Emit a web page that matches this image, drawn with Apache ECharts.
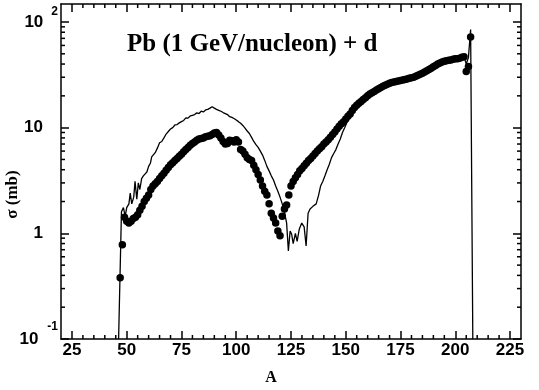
<!DOCTYPE html>
<html><head><meta charset="utf-8">
<script src="https://cdn.jsdelivr.net/npm/echarts@6/dist/echarts.min.js"></script>
<style>html,body{margin:0;padding:0;background:#fff}#c{width:539px;height:390px}</style>
</head><body><div id="c"></div>
<script>
const titleText = 'Pb (1 GeV/nucleon) + d';
const xName = 'A';
const yName = 'σ (mb)';
const xMin = 20, xMax = 230;
const yMin = 0.1, yMax = 148;
const xTickValues = [25, 50, 75, 100, 125, 150, 175, 200, 225];
const xMinorTickValues = [30,35,40,45,55,60,65,70,80,85,90,95,105,110,115,120,130,135,140,145,155,160,165,170,180,185,190,195,205,210,215,220];
const yTickValues = [0.1, 1, 10, 100];
const yMinorTickValues = [0.2,0.3,0.4,0.5,0.6,0.7,0.8,0.9,2,3,4,5,6,7,8,9,20,30,40,50,60,70,80,90];

// experimental points (filled circles)
const dotA = [47,48,49,50,51,52,53,54,55,56,57,58,59,60,61,62,63,64,65,66,67,68,69,70,71,72,73,74,75,76,77,78,79,80,
81,82,83,84,85,86,87,88,89,90,91,92,93,94,95,96,97,98,99,100,101,102,103,104,105,106,107,108,109,110,
111,112,113,114,115,116,117,118,119,120,121,122,123,124,125,126,127,128,129,130,131,132,133,134,135,136,137,138,139,140,
141,142,143,144,145,146,147,148,149,150,151,152,153,154,155,156,157,158,159,160,161,162,163,164,165,166,167,168,169,170,
171,172,173,174,175,176,177,178,179,180,181,182,183,184,185,186,187,188,189,190,191,192,193,194,195,196,197,198,199,200,
201,202,203,204,205,206,207];
const dotSigma = [0.38,0.78,1.42,1.3,1.25,1.3,1.38,1.42,1.5,1.65,1.8,2.0,2.15,2.3,2.6,2.8,2.95,3.1,3.3,3.5,3.7,3.95,4.2,4.45,4.65,4.9,5.1,5.35,5.6,5.9,6.2,6.5,6.8,7.1,
7.3,7.6,7.8,7.9,8.0,8.2,8.3,8.4,8.6,8.9,9.0,8.5,8.0,7.4,7.0,7.1,7.6,7.5,7.3,7.7,7.3,6.2,6.0,5.6,5.2,5.0,4.9,4.4,4.0,3.6,
3.2,2.8,2.5,2.3,1.9,1.55,1.4,1.25,1.05,0.95,1.45,1.7,1.85,2.3,2.8,3.1,3.35,3.6,3.9,4.1,4.35,4.6,4.9,5.1,5.4,5.7,6.0,6.3,6.6,7.0,
7.3,7.7,8.1,8.6,9.1,9.7,10.3,10.9,11.4,12.1,12.8,13.5,14.5,15.5,16.3,17.0,17.7,18.5,19.2,20.0,20.8,21.4,22.0,22.7,23.3,24.0,24.6,25.2,25.8,26.3,
26.7,27.1,27.4,27.7,28.0,28.2,28.5,28.9,29.3,29.6,30.0,30.6,31.3,32.0,32.8,33.6,34.5,35.5,36.5,37.7,38.8,40.0,41.0,41.8,42.5,43.0,43.5,43.8,44.5,45.0,
45.0,45.5,46.5,47.0,34.0,38.0,72.0];

// calculation (thin line)
const calcA = [46.3,47.6,48.5,49.3,50,51,51.6,52.3,53.2,53.8,54.6,55.3,56,56.8,57.6,58.4,59.2,60,60.8,61.4,62.2,63,64,65,66,67,68,69,70,
71,72,73,74,75,76,77,78,79,80,81,82,83,84,85,86,87,88,89,90,91,92,93,94,95,96,97,98,99,100,
101,102,103,104,105,106,107,108,109,110,111,112,113,114,115,116,117,118,119,120,121,122,123,123.8,124.6,125.3,126,127,127.8,128.8,129.9,131,131.9,132.8,133.7,135,136.5,137.6,138.5,139.5,
140.5,141.5,142.5,143.5,144.5,145.5,146.5,147.5,148.5,149.5,150.5,151.5,152.5,153.5,154.5,155.5,157,160,163,166,169,172,175,178,181,184,187,190,193,196,199,202,204,205,206,207,208];
const calcSigma = [0.1,1.6,1.75,1.45,1.75,1.9,2.4,1.9,2.2,3.1,2.1,3.0,2.6,3.3,3.5,3.4,3.8,4.3,4.6,5.3,5.5,5.8,6.4,7.2,7.4,8.0,8.7,9.2,9.7,
10.0,10.6,10.7,11.1,11.4,11.7,12.4,12.3,12.9,13.1,13.3,13.8,13.6,14.3,14.1,14.7,14.9,15.3,15.8,15.3,14.9,14.6,14.3,13.9,13.6,13.3,12.7,12.5,12.2,11.8,
11.4,11.0,10.5,9.9,9.3,8.8,8.1,7.4,6.9,6.5,6.0,5.5,4.9,4.3,3.9,3.5,3.2,2.8,2.5,2.2,1.9,1.6,1.25,0.68,1.05,0.98,0.8,1.0,0.84,1.1,1.25,1.15,0.76,1.55,1.7,1.8,1.9,2.3,2.8,3.1,
3.5,4.0,4.5,5.2,5.7,6.2,7.0,7.8,9.0,10.0,11.2,12.4,13.7,15.0,16.0,16.8,17.7,20.0,22.0,24.0,25.8,27.1,28.0,28.9,30.0,32.0,34.5,37.7,41.0,43.0,44.5,45.5,47.0,40.0,46.0,85.0,0.1];

const dotData = dotA.map((a, i) => [a, dotSigma[i]]);
const calcData = calcA.map((a, i) => [a, calcSigma[i]]);

const axisColor = '#000';
const frameW = 1.5;
const majorLen = 8, minorLen = 4;

function yLabel(v) {
  const e = Math.round(Math.log10(v));
  if (e === 2) return '{b|10}{g|}{s|2}';
  if (e === -1) return '{b|10}{g2|}{m|-1}';
  if (e === 1) return '{b|10}{p|}';
  return '{b|1}{p|}';
}

const chart = echarts.init(document.getElementById('c'), null, {renderer: 'canvas'});
const option = {
  animation: false,
  backgroundColor: '#fff',
  grid: {left: 61, right: 18, top: 4, bottom: 51, containLabel: false, outerBoundsMode: 'none'},
  graphic: [{
    type: 'text', left: 127, top: 32,
    style: {text: titleText, font: 'bold 25px "Liberation Serif"', fill: '#000'}
  }],
  xAxis: [{
    type: 'value', min: xMin, max: xMax, position: 'bottom',
    axisLine: {show: true, onZero: false, lineStyle: {color: axisColor, width: frameW}},
    axisTick: {show: true, inside: true, length: majorLen, customValues: xTickValues, lineStyle: {color: axisColor, width: frameW}},
    axisLabel: {show: true, customValues: xTickValues, color: '#000', fontSize: 17, fontWeight: 'bold', fontFamily: 'Liberation Sans', margin: 3},
    splitLine: {show: false},
    name: xName, nameLocation: 'middle', nameGap: 31, nameMoveOverlap: false,
    nameTextStyle: {color: '#000', fontSize: 16, fontWeight: 'bold', fontFamily: 'Liberation Serif', padding: [0, 40, 0, 0]}
  }, {
    type: 'value', min: xMin, max: xMax, position: 'top',
    axisLine: {show: true, onZero: false, lineStyle: {color: axisColor, width: frameW}},
    axisTick: {show: true, inside: true, length: majorLen, customValues: xTickValues, lineStyle: {color: axisColor, width: frameW}},
    axisLabel: {show: false},
    splitLine: {show: false}
  }],
  yAxis: [{
    type: 'log', logBase: 10, min: yMin, max: yMax, position: 'left',
    axisLine: {show: true, onZero: false, lineStyle: {color: axisColor, width: frameW}},
    axisTick: {show: true, inside: true, length: majorLen, customValues: yTickValues, lineStyle: {color: axisColor, width: frameW}},
    axisLabel: {
      show: true, customValues: yTickValues, formatter: yLabel, align: 'right', margin: 3,
      rich: {
        b: {fontSize: 17, fontWeight: 'bold', fontFamily: 'Liberation Sans', color: '#000'},
        g: {width: 8}, g2: {width: 9}, p: {width: 15},
        s: {fontSize: 12, fontWeight: 'bold', fontFamily: 'Liberation Sans', color: '#000', padding: [0, 0, 20, 0]},
        m: {fontSize: 12, fontWeight: 'bold', fontFamily: 'Liberation Sans', color: '#000', padding: [0, 0, 24, 0]}
      }
    },
    splitLine: {show: false},
    name: yName, nameLocation: 'middle', nameGap: 40, nameRotate: 90, nameMoveOverlap: false,
    nameTextStyle: {color: '#000', fontSize: 17, fontWeight: 'bold', fontFamily: 'Liberation Serif', padding: [0, 46, 0, 0]}
  }, {
    type: 'log', logBase: 10, min: yMin, max: yMax, position: 'right',
    axisLine: {show: true, onZero: false, lineStyle: {color: axisColor, width: frameW}},
    axisTick: {show: true, inside: true, length: majorLen, customValues: yTickValues, lineStyle: {color: axisColor, width: frameW}},
    axisLabel: {show: false},
    splitLine: {show: false}
  }],
  series: [{
    type: 'custom', name: 'yMinor', coordinateSystem: 'cartesian2d', xAxisIndex: 0, yAxisIndex: 0, silent: true, z: 5,
    data: yMinorTickValues.map(v => [xMin, v]),
    renderItem: function (params, api) {
      const cs = params.coordSys;
      const y = api.coord([api.value(0), api.value(1)])[1];
      const st = {stroke: axisColor, lineWidth: frameW};
      return {type: 'group', children: [
        {type: 'line', shape: {x1: cs.x, y1: y, x2: cs.x + minorLen, y2: y}, style: st},
        {type: 'line', shape: {x1: cs.x + cs.width - minorLen, y1: y, x2: cs.x + cs.width, y2: y}, style: st}
      ]};
    }
  }, {
    type: 'custom', name: 'xMinor', coordinateSystem: 'cartesian2d', xAxisIndex: 0, yAxisIndex: 0, silent: true, z: 5,
    data: xMinorTickValues.map(v => [v, yMin]),
    renderItem: function (params, api) {
      const cs = params.coordSys;
      const x = api.coord([api.value(0), api.value(1)])[0];
      const st = {stroke: axisColor, lineWidth: frameW};
      return {type: 'group', children: [
        {type: 'line', shape: {x1: x, y1: cs.y + cs.height, x2: x, y2: cs.y + cs.height - minorLen}, style: st},
        {type: 'line', shape: {x1: x, y1: cs.y, x2: x, y2: cs.y + minorLen}, style: st}
      ]};
    }
  }, {
    type: 'line', name: 'calc', data: calcData, showSymbol: false, symbol: 'none',
    lineStyle: {color: '#000', width: 1.3}, z: 3
  }, {
    type: 'scatter', name: 'exp', data: dotData, symbol: 'circle', symbolSize: 7.5,
    itemStyle: {color: '#000', opacity: 1}, z: 4
  }]
};
chart.setOption(option);
</script>
</body></html>
